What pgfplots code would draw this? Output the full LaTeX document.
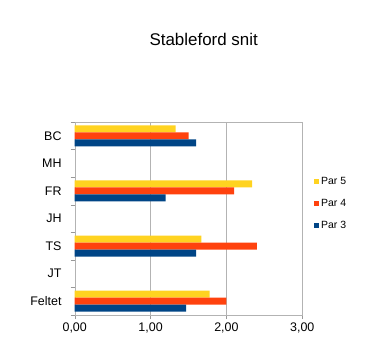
\documentclass[border=0pt]{standalone}
\usepackage{fontspec}
\setmainfont{Liberation Sans}
\usepackage{pgfplots}
\pgfplotsset{compat=1.18}
\definecolor{par3}{HTML}{004586}
\definecolor{par4}{HTML}{FF420E}
\definecolor{par5}{HTML}{FFD320}
\definecolor{gridc}{HTML}{B3B3B3}
\begin{document}
\begin{tikzpicture}
\useasboundingbox (0,0) rectangle (379bp,358bp);
\node[anchor=base, inner sep=0pt, font=\fontsize{17}{20}\selectfont] at (203.7bp,312bp) {Stableford snit};
\begin{axis}[
  at={(74.7bp,43bp)}, anchor=south west,
  scale only axis, width=227.6bp, height=193bp,
  xbar, bar width=7bp,
  xmin=0, xmax=3, ymin=-0.5, ymax=6.5,
  xtick={0,1,2,3}, xticklabels={{0,00},{1,00},{2,00},{3,00}},
  ytick={-0.5,0.5,...,6.5}, yticklabels={},
  extra y ticks={0,...,6},
  extra y tick labels={Feltet,JT,TS,JH,FR,MH,BC},
  extra y tick style={major tick length=0pt, y tick label style={xshift=-5bp}},
  tick align=outside, xtick pos=bottom, ytick pos=left,
  major tick length=4bp,
  every tick/.append style={gridc!85!black},
  axis line style={gridc},
  xmajorgrids=true, ymajorgrids=false,
  major grid style={gridc},
  tick label style={font=\fontsize{12.5}{14}\selectfont, text=black},
  x tick label style={inner sep=0pt, yshift=-4bp},
  y tick label style={inner sep=0pt, xshift=-8bp},
  legend style={at={(1.051,0.578)}, anchor=west, draw=none, fill=none,
    font=\fontsize{10.5}{12}\selectfont, row sep=9.5bp, inner sep=0pt,
    cells={anchor=west}},
  legend image code/.code={\fill[#1] (0bp,-2.5bp) rectangle (5bp,2.5bp);},
]
\addplot[fill=par5, draw=none, bar shift=7bp] coordinates {(1.33,6) (2.34,4) (1.67,2) (1.78,0)};
\addlegendentry{Par 5}
\addplot[fill=par4, draw=none, bar shift=0bp] coordinates {(1.50,6) (2.10,4) (2.40,2) (2.00,0)};
\addlegendentry{Par 4}
\addplot[fill=par3, draw=none, bar shift=-7bp] coordinates {(1.60,6) (1.20,4) (1.60,2) (1.47,0)};
\addlegendentry{Par 3}
\end{axis}
\end{tikzpicture}
\end{document}
